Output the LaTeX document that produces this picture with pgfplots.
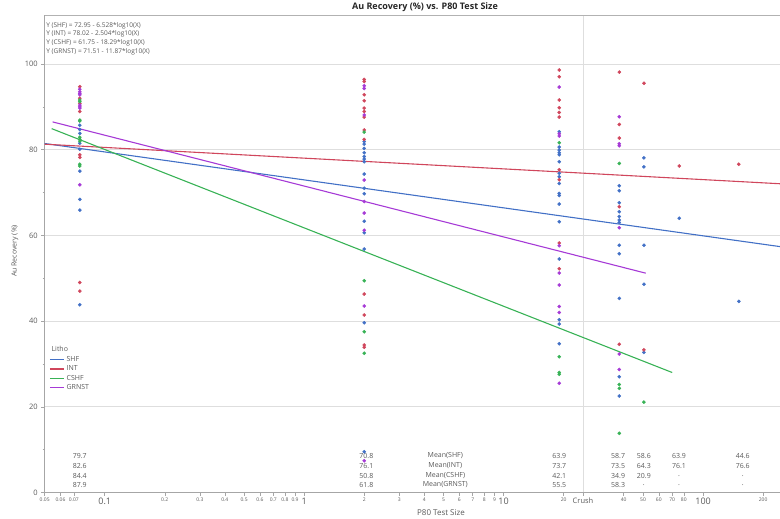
\documentclass[border=0pt]{standalone}
\usepackage{pgfplots}
\pgfplotsset{compat=1.18}
\usepackage{pgfplotstable}
\usepackage{fontspec}
\setmainfont{Open Sans}
\definecolor{shfc}{RGB}{66,112,198}
\definecolor{intc}{RGB}{208,70,92}
\definecolor{cshfc}{RGB}{56,178,86}
\definecolor{grnc}{RGB}{166,58,214}
\definecolor{txt}{RGB}{90,90,90}
\definecolor{gridc}{RGB}{222,222,222}

\pgfplotstableread{
x y
0.075 85.7
0.075 84.7
0.075 83.8
0.075 81.5
0.075 80.1
0.075 75.0
0.075 68.4
0.075 65.9
0.075 43.8
2 81.9
2 81.3
2 80.3
2 79.3
2 78.4
2 77.8
2 77.2
2 74.3
2 71.0
2 69.7
2 63.3
2 60.6
2 56.8
2 39.6
2 9.5
19 84.2
19 80.6
19 79.9
19 79.3
19 78.8
19 77.2
19 74.5
19 73.7
19 72.1
19 69.8
19 69.3
19 67.3
19 63.2
19 54.5
19 40.3
19 39.3
19 34.7
38 71.6
38 70.4
38 67.6
38 65.5
38 64.4
38 63.6
38 63.0
38 57.7
38 55.7
38 45.3
38 27.0
38 22.5
50.5 78.1
50.5 76.0
50.5 57.7
50.5 48.6
50.5 32.7
76 64.0
151 44.6
}\shf

\pgfplotstableread{
x y
0.075 94.7
0.075 92.0
0.075 90.8
0.075 88.9
0.075 78.8
0.075 78.2
0.075 49.0
0.075 47.0
2 96.4
2 95.9
2 92.8
2 91.4
2 89.7
2 88.9
2 87.6
2 84.6
2 82.4
2 46.3
2 41.4
2 34.4
2 33.9
19 98.6
19 97.0
19 91.6
19 89.8
19 88.7
19 87.6
19 75.3
19 73.0
19 58.2
19 52.2
38 98.1
38 85.9
38 82.7
38 66.7
38 34.6
50.5 95.5
50.5 33.3
76 76.2
151 76.6
}\intt

\pgfplotstableread{
x y
0.075 91.6
0.075 91.2
0.075 86.9
0.075 86.7
0.075 82.9
0.075 82.4
0.075 82.0
0.075 76.6
0.075 76.2
2 84.1
2 49.4
2 37.5
2 32.5
19 81.6
19 31.7
19 28.0
19 27.6
38 76.8
38 25.2
38 24.3
38 13.8
50.5 21.1
}\cshf

\pgfplotstableread{
x y
0.075 94.1
0.075 93.5
0.075 93.1
0.075 92.8
0.075 90.4
0.075 90.0
0.075 89.7
0.075 71.8
2 94.9
2 94.3
2 88.1
2 72.9
2 67.9
2 65.2
2 61.2
2 43.5
2 7.4
19 94.6
19 83.7
19 83.2
19 57.6
19 51.2
19 48.4
19 43.4
19 42.0
19 25.5
38 87.7
38 81.4
38 80.9
38 61.8
38 32.3
38 28.7
}\grn

\begin{document}
\begin{tikzpicture}
\path[use as bounding box] (-44.7pt,-26.5pt) rectangle (735.3pt,492.5pt);
\begin{axis}[
  at={(0pt,0pt)}, anchor=south west,
  scale only axis, width=735.3pt, height=477.5pt,
  xmode=log, xmin=0.05, xmax=243, ymin=0, ymax=111.43,
  axis x line*=bottom, axis y line*=left,
  axis line style={draw=black!35, line width=0.6pt},
  every outer x axis line/.append style={-},
  every outer y axis line/.append style={-},
  /pgf/number format/assume math mode=true,
  ytick={0,20,40,60,80,100},
  minor y tick num=1,
  ymajorgrids, major grid style={gridc, line width=0.6pt},
  yticklabel style={font=\fontsize{7.5}{8}\selectfont, text=txt},
  tick align=outside,
  major tick length=3.5pt, minor tick length=2pt,
  tick style={draw=black!35, line width=0.5pt},
  xtick={0.05,0.06,0.07,0.1,0.2,0.3,0.4,0.5,0.6,0.7,0.8,0.9,1,2,3,4,5,6,7,8,9,10,20,40,50,60,70,80,100,200},
  xticklabels={{\tiny 0.05},{\tiny 0.06},{\tiny 0.07},{\small 0.1},{\tiny 0.2},{\tiny 0.3},{\tiny 0.4},{\tiny 0.5},{\tiny 0.6},{\tiny 0.7},{\tiny 0.8},{\tiny 0.9},{\small 1},{\tiny 2},{\tiny 3},{\tiny 4},{\tiny 5},{\tiny 6},{\tiny 7},{\tiny 8},{\tiny 9},{\small 10},{\tiny 20},{\tiny 40},{\tiny 50},{\tiny 60},{\tiny 70},{\tiny 80},{\small 100},{\tiny 200}},
  xticklabel style={text=txt, inner sep=1.5pt},
  extra x ticks={25}, extra x tick labels={\fontsize{7.5}{8}\selectfont Crush},
  extra x tick style={xmajorgrids=true, major grid style={gridc, line width=0.7pt}, xticklabel style={text=txt}},
  legend style={at={(rel axis cs:0.006,0.31)}, anchor=north west, draw=none, fill=none,
    font=\fontsize{7}{8}\selectfont, text=txt, row sep=-1.2pt, inner sep=0pt},
  legend cell align=left,
  legend image code/.code={\draw[#1] (0pt,0pt) -- (14pt,0pt);},
  clip=false,
]
\draw[black!30, line width=0.6pt] (rel axis cs:0,1) -- (rel axis cs:1,1);

\addplot[only marks, mark=*, mark size=1.6pt, mark options={draw=shfc, fill=shfc}, forget plot] table[x=x,y=y] {\shf};
\addplot[only marks, mark=*, mark size=1.6pt, mark options={draw=intc, fill=intc}, forget plot] table[x=x,y=y] {\intt};
\addplot[only marks, mark=*, mark size=1.6pt, mark options={draw=cshfc, fill=cshfc}, forget plot] table[x=x,y=y] {\cshf};
\addplot[only marks, mark=*, mark size=1.6pt, mark options={draw=grnc, fill=grnc}, forget plot] table[x=x,y=y] {\grn};

\addplot[color=shfc, line width=1.1pt, forget plot] coordinates {(0.05,81.44) (243,57.38)};
\addplot[color=intc, line width=1.1pt, forget plot] coordinates {(0.05,81.28) (243,72.05)};
\addplot[color=cshfc, line width=1.1pt, forget plot] coordinates {(0.0542,84.91) (70,28.00)};
\addplot[color=grnc, line width=1.1pt, forget plot] coordinates {(0.0548,86.48) (51.6,51.18)};

\addlegendimage{empty legend}
\addlegendentry{\hspace{-15pt}Litho}
\addlegendimage{color=shfc, line width=1.3pt}
\addlegendentry{SHF}
\addlegendimage{color=intc, line width=1.3pt}
\addlegendentry{INT}
\addlegendimage{color=cshfc, line width=1.3pt}
\addlegendentry{CSHF}
\addlegendimage{color=grnc, line width=1.3pt}
\addlegendentry{GRNST}

\node[anchor=north west, align=left, font=\fontsize{6.5}{8.7}\selectfont, text=txt, inner sep=0pt]
  at (rel axis cs:0.002,0.985) {Y (SHF) = 72.95 - 6.528*log10(X)\\Y (INT) = 78.02 - 2.504*log10(X)\\Y (CSHF) = 61.75 - 18.29*log10(X)\\Y (GRNST) = 71.51 - 11.87*log10(X)};

\tikzset{mt/.style={font=\fontsize{7}{8}\selectfont, text=txt, inner sep=0pt}}
\node[mt] at (axis cs:0.075,8.6) {79.7};
\node[mt] at (axis cs:0.075,6.2) {82.6};
\node[mt] at (axis cs:0.075,3.9) {84.4};
\node[mt] at (axis cs:0.075,1.75) {87.9};
\node[mt] at (axis cs:2.05,8.6) {70.8};
\node[mt] at (axis cs:2.05,6.2) {76.1};
\node[mt] at (axis cs:2.05,3.9) {50.8};
\node[mt] at (axis cs:2.05,1.75) {61.8};
\node[mt] at (axis cs:5.1,8.6) {Mean(SHF)};
\node[mt] at (axis cs:5.1,6.2) {Mean(INT)};
\node[mt] at (axis cs:5.1,3.9) {Mean(CSHF)};
\node[mt] at (axis cs:5.1,1.75) {Mean(GRNST)};
\node[mt] at (axis cs:19,8.6) {63.9};
\node[mt] at (axis cs:19,6.2) {73.7};
\node[mt] at (axis cs:19,3.9) {42.1};
\node[mt] at (axis cs:19,1.75) {55.5};
\node[mt] at (axis cs:37.5,8.6) {58.7};
\node[mt] at (axis cs:37.5,6.2) {73.5};
\node[mt] at (axis cs:37.5,3.9) {34.9};
\node[mt] at (axis cs:37.5,1.75) {58.3};
\node[mt] at (axis cs:50.5,8.6) {58.6};
\node[mt] at (axis cs:50.5,6.2) {64.3};
\node[mt] at (axis cs:50.5,3.9) {20.9};
\node[mt] at (axis cs:50.5,1.75) {.};
\node[mt] at (axis cs:75.7,8.6) {63.9};
\node[mt] at (axis cs:75.7,6.2) {76.1};
\node[mt] at (axis cs:75.7,3.9) {.};
\node[mt] at (axis cs:75.7,1.75) {.};
\node[mt] at (axis cs:158,8.6) {44.6};
\node[mt] at (axis cs:158,6.2) {76.6};
\node[mt] at (axis cs:158,3.9) {.};
\node[mt] at (axis cs:158,1.75) {.};
\end{axis}
\node[font=\bfseries\fontsize{9}{10}\selectfont, text=black!85] at (380.3pt,485.5pt) {Au Recovery (\%) vs. P80 Test Size};
\node[rotate=90, font=\fontsize{7}{8}\selectfont, text=txt] at (-29.7pt,241.5pt) {Au Recovery (\%)};
\node[font=\fontsize{8}{9}\selectfont, text=txt] at (396.3pt,-20pt) {P80 Test Size};
\end{tikzpicture}
\end{document}
